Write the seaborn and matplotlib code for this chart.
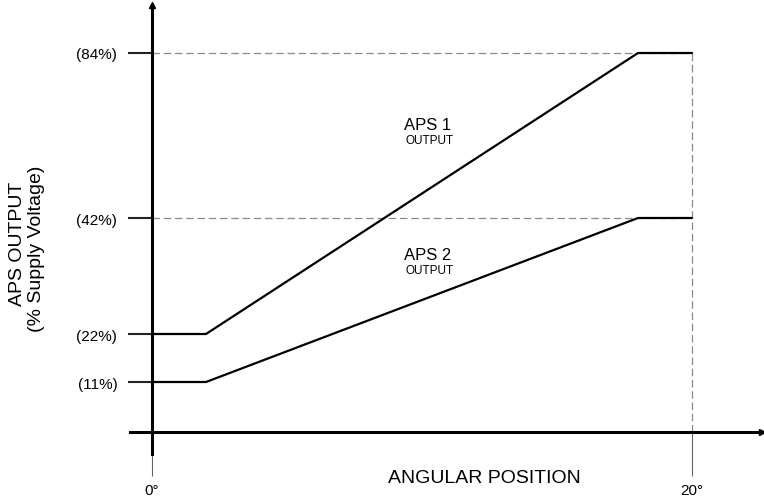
import numpy as np
import pandas as pd
import seaborn as sns
import matplotlib.pyplot as plt

# angular position (deg) and sensor outputs (% of supply voltage)
angle = [0, 2, 18, 20]
aps1 = [22, 22, 84, 84]
aps2 = [11, 11, 42, 42]
y_ticks = [11, 22, 42, 84]
y_tick_labels = ['(11%)', '(22%)', '(42%)', '(84%)']
x_ticks = [0, 20]
x_tick_labels = ['0°', '20°']

sns.set_style('white')
plt.rcParams['font.family'] = ['Liberation Sans', 'DejaVu Sans']
plt.rcParams['text.color'] = 'black'

df = pd.concat([
    pd.DataFrame({'angle': angle, 'output': aps1, 'sensor': 'APS 1'}),
    pd.DataFrame({'angle': angle, 'output': aps2, 'sensor': 'APS 2'}),
])

# the drawing is schematic: the y axis is not linear, so map the
# labelled percentages onto their drawn heights (pixels from bottom)
pct_pts = np.array([-100, 0, 11, 22, 42, 84, 200], dtype=float)
pos_pts = np.array([69 - 454.5, 69, 119, 167, 283, 448, 448 + 116 * 165 / 42])


def fwd(v):
    return np.interp(v, pct_pts, pos_pts)


def inv(p):
    return np.interp(p, pos_pts, pct_pts)


W, H = 764, 502
fig = plt.figure(figsize=(W / 100, H / 100), dpi=100)
ax = fig.add_axes([130 / W, (H - 455) / H, (762 - 130) / W, (455 - 6) / H])
ax.set_yscale('function', functions=(fwd, inv))
ax.set_xlim(-22 / 27, 610 / 27)
ax.set_ylim(inv(H - 455), inv(H - 6))

# dashed guides to the plateaus
ax.hlines([max(aps1), max(aps2)], angle[0], angle[-1], colors='#8a8a8a',
          linestyles=(0, (6, 3)), linewidth=0.9, zorder=1)
ax.vlines(angle[-1], 0, max(aps1), colors='#8a8a8a',
          linestyles=(0, (6, 3)), linewidth=0.9, zorder=1)

sns.lineplot(data=df, x='angle', y='output', hue='sensor',
             palette=['black', 'black'], linewidth=1.6, legend=False,
             ax=ax, zorder=3)

# axes through the origin, with arrow heads
for side in ['top', 'right']:
    ax.spines[side].set_visible(False)
ax.spines['left'].set_position(('data', 0))
ax.spines['bottom'].set_position(('data', 0))
for side in ['left', 'bottom']:
    ax.spines[side].set_linewidth(2.2)
    ax.spines[side].set_color('black')
ax.plot(1, 0, '>', color='black', ms=5, transform=ax.get_yaxis_transform(), clip_on=False)
ax.plot(0, 1, '^', color='black', ms=5, transform=ax.get_xaxis_transform(), clip_on=False)

ax.set_yticks(y_ticks, y_tick_labels)
ax.set_xticks(x_ticks, x_tick_labels)
ax.minorticks_off()
ax.tick_params(axis='y', left=True, direction='out', length=17, width=1.5,
               color='#222222', pad=8, labelsize=11, labelcolor='black')
ax.tick_params(axis='x', bottom=True, direction='out', length=32, width=0.8,
               color='#666666', pad=5, labelsize=11, labelcolor='black')
ax.set_xlabel('')
ax.set_ylabel('')

fig.text(484 / W, 1 - 479 / H, 'ANGULAR POSITION', ha='center', va='center', fontsize=14)
fig.text(18 / W, 1 - 244 / H, 'APS OUTPUT', rotation=90, ha='center', va='center', fontsize=14)
fig.text(37 / W, 1 - 249 / H, '(% Supply Voltage)', rotation=90, ha='center', va='center', fontsize=14)

fig.text(428 / W, 1 - 125 / H, 'APS 1', ha='center', va='center', fontsize=12)
fig.text(430 / W, 1 - 141 / H, 'OUTPUT', ha='center', va='center', fontsize=8.5)
fig.text(428 / W, 1 - 255 / H, 'APS 2', ha='center', va='center', fontsize=12)
fig.text(430 / W, 1 - 271 / H, 'OUTPUT', ha='center', va='center', fontsize=8.5)

fig.savefig('out.png', dpi=100)
